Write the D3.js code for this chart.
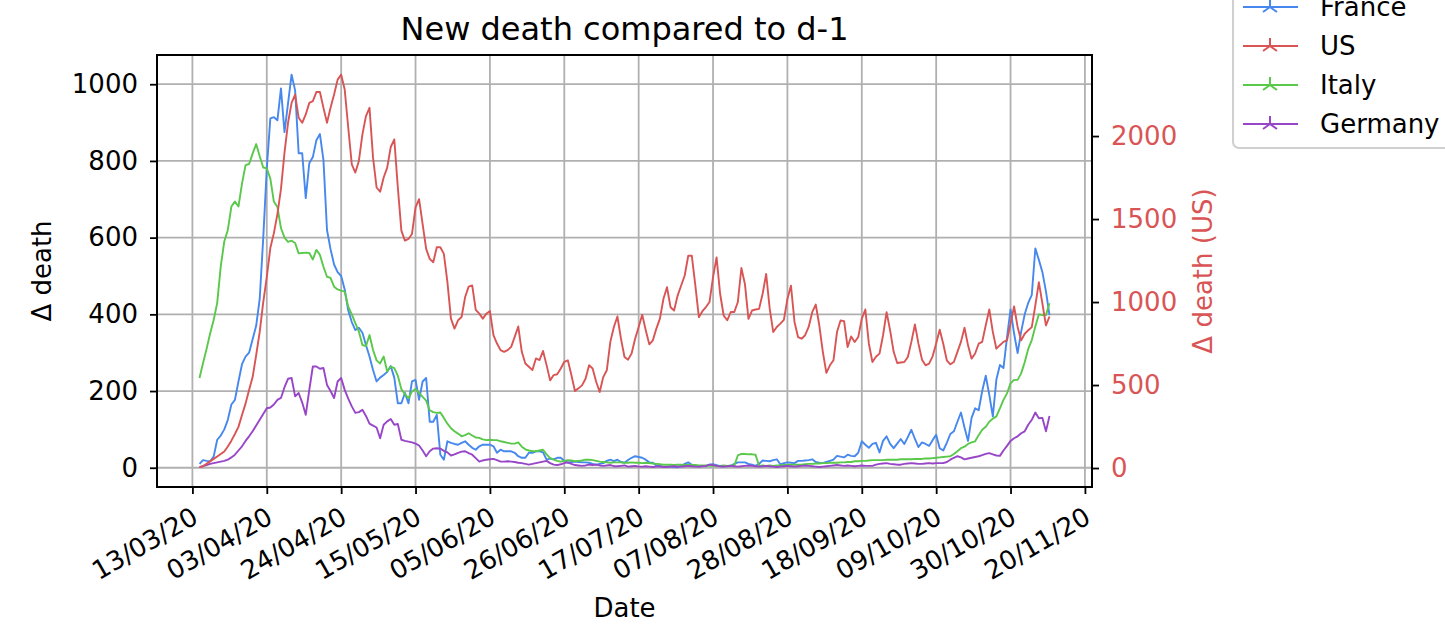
<!doctype html>
<html>
<head>
<meta charset="utf-8">
<title>New death compared to d-1</title>
<style>
  body { margin: 0; background: #fff; }
  svg { font-family: "DejaVu Sans", sans-serif; }
  .grid line { stroke: #b0b0b0; stroke-width: 1.8px; }
  .series { fill: none; stroke-width: 1.9px; stroke-linejoin: round; }
  .axis text { font-family: "DejaVu Sans", sans-serif; font-size: 26px; }
</style>
</head>
<body>
<script src="https://cdn.jsdelivr.net/npm/d3@7"></script>
<script>
// one value per day, starting on firstDay
var firstDay = "2020-03-15";
var countries = ["France", "US", "Italy", "Germany"];
var colors = ["#4688ee", "#d95555", "#5ac84a", "#9846c8"];

var france = [10, 20, 18, 17, 29, 73, 84, 100, 125, 165,
  177, 225, 270, 290, 300, 335, 370, 440, 600, 780,
  911, 914, 906, 989, 875, 950, 1025, 984, 820, 820,
  703, 794, 810, 854, 870, 802, 620, 570, 530, 510,
  500, 465, 410, 380, 359, 365, 352, 320, 290, 255,
  225, 235, 242, 250, 265, 235, 168, 168, 195, 168,
  225, 229, 177, 225, 234, 120, 120, 138, 34, 21,
  69, 65, 62, 60, 65, 69, 60, 52, 47, 56,
  60, 60, 60, 56, 39, 47, 43, 43, 43, 39,
  30, 26, 26, 39, 39, 43, 43, 40, 21, 24,
  22, 26, 26, 18, 13, 15, 16, 15, 14, 14,
  13, 10, 8, 10, 12, 18, 21, 17, 21, 15,
  13, 20, 26, 30, 28, 26, 21, 14, 13, 6,
  4, 3, 3, 4, 2, 1, 4, 10, 14, 8,
  5, 3, 5, 4, 8, 9, 7, 4, 4, 5,
  5, 10, 14, 14, 14, 10, 8, 5, 10, 19,
  18, 17, 20, 22, 9, 12, 14, 13, 12, 18,
  18, 19, 20, 22, 15, 13, 12, 15, 18, 21,
  31, 29, 27, 34, 31, 30, 39, 69, 60, 52,
  62, 65, 40, 70, 82, 62, 51, 63, 75, 62,
  80, 99, 75, 54, 66, 62, 57, 72, 86, 51,
  45, 65, 88, 95, 120, 144, 105, 70, 130, 155,
  150, 200, 240, 190, 134, 230, 268, 260, 340, 413,
  350, 299, 355, 400, 430, 451, 572, 542, 510, 460, 398];

var us = [4, 12, 25, 40, 55, 70, 85, 100, 130, 165,
  205, 248, 320, 388, 470, 548, 680, 820, 1000, 1150,
  1325, 1415, 1530, 1680, 1900, 2080, 2200, 2250, 2110, 2080,
  2130, 2200, 2210, 2265, 2265, 2170, 2080, 2170, 2250, 2340,
  2370, 2280, 2050, 1830, 1780, 1850, 2010, 2120, 2170, 1870,
  1690, 1665, 1750, 1810, 1934, 1980, 1690, 1430, 1370, 1380,
  1410, 1570, 1620, 1470, 1320, 1260, 1240, 1330, 1330, 1290,
  1120, 900, 840, 890, 910, 1030, 1093, 1100, 953, 930,
  900, 930, 946, 800, 750, 710, 700, 710, 730, 790,
  853, 700, 630, 610, 590, 660, 650, 705, 620, 528,
  560, 565, 600, 640, 649, 560, 464, 480, 498, 538,
  619, 600, 520, 458, 548, 589, 760, 850, 913, 780,
  669, 653, 690, 779, 850, 923, 830, 745, 769, 840,
  900, 1020, 1089, 969, 949, 1039, 1100, 1160, 1279, 1279,
  1100, 909, 945, 970, 1000, 1150, 1269, 1050, 919, 890,
  940, 940, 1000, 1205, 1109, 899, 949, 955, 959, 1050,
  1169, 960, 819, 850, 870, 893, 1019, 1099, 880, 789,
  779, 800, 850, 939, 985, 860, 700, 573, 619, 649,
  819, 889, 885, 729, 793, 759, 789, 900, 955, 749,
  639, 670, 689, 800, 939, 829, 700, 633, 636, 639,
  669, 760, 865, 749, 653, 619, 629, 673, 750, 833,
  749, 649, 625, 639, 700, 760, 845, 739, 659, 690,
  749, 760, 860, 955, 820, 719, 740, 760, 769, 870,
  973, 850, 769, 809, 830, 849, 980, 1119, 990, 859, 913];

var italy = [234, 273, 310, 350, 385, 430, 525, 590, 620, 681,
  694, 681, 741, 789, 792, 819, 844, 812, 783, 781,
  754, 694, 680, 625, 600, 589, 592, 586, 559, 560,
  561, 560, 543, 568, 555, 524, 498, 495, 472, 465,
  462, 459, 420, 400, 377, 355, 320, 317, 346, 307,
  280, 272, 290, 251, 264, 260, 240, 205, 192, 181,
  199, 205, 195, 185, 175, 150, 145, 143, 144, 130,
  115, 103, 95, 89, 82, 85, 90, 84, 79, 78,
  74, 72, 73, 72, 72, 69, 67, 65, 63, 63,
  66, 55, 48, 45, 43, 43, 45, 47, 35, 25,
  21, 18, 16, 18, 20, 19, 17, 18, 19, 21,
  21, 20, 18, 16, 15, 14, 13, 14, 14, 14,
  13, 13, 14, 13, 13, 12, 13, 12, 11, 10,
  9, 8, 8, 8, 7, 8, 8, 7, 8, 7,
  7, 6, 6, 6, 5, 6, 5, 5, 6, 5,
  6, 6, 32, 36, 36, 35, 35, 34, 5, 6,
  5, 6, 5, 6, 6, 7, 7, 8, 8, 8,
  8, 9, 10, 10, 11, 11, 12, 12, 13, 13,
  13, 14, 14, 15, 15, 17, 17, 18, 18, 19,
  20, 20, 20, 20, 21, 21, 21, 21, 22, 22,
  22, 22, 23, 23, 23, 24, 24, 25, 26, 27,
  28, 29, 30, 36, 43, 51, 55, 62, 66, 69,
  85, 99, 107, 120, 128, 134, 155, 177, 194, 220,
  229, 229, 246, 275, 310, 333, 368, 400, 398, 398, 429];

var germany = [2, 4, 7, 10, 12, 14, 16, 18, 21, 27,
  34, 45, 56, 70, 82, 95, 110, 125, 140, 155,
  157, 165, 177, 182, 210, 232, 234, 186, 195, 170,
  138, 203, 264, 264, 258, 260, 216, 200, 182, 225,
  234, 203, 180, 160, 143, 145, 151, 135, 115, 110,
  105, 77, 112, 121, 127, 112, 114, 73, 70, 68,
  66, 63, 58, 45, 30, 43, 50, 51, 50, 44,
  40, 32, 35, 39, 42, 43, 38, 34, 25, 16,
  19, 21, 22, 23, 20, 16, 16, 17, 16, 15,
  13, 12, 10, 8, 10, 12, 14, 16, 18, 12,
  8, 7, 9, 12, 14, 10, 7, 6, 5, 6,
  8, 7, 8, 6, 5, 6, 7, 4, 4, 5,
  6, 3, 4, 5, 3, 3, 4, 3, 2, 3,
  4, 2, 2, 3, 4, 3, 3, 4, 5, 4,
  3, 3, 4, 5, 8, 7, 5, 4, 3, 4,
  5, 4, 3, 4, 5, 6, 5, 4, 3, 4,
  5, 4, 3, 2, 3, 4, 5, 4, 3, 4,
  5, 6, 5, 4, 3, 2, 3, 4, 5, 6,
  7, 6, 5, 6, 5, 4, 5, 6, 5, 5,
  5, 8, 10, 11, 12, 10, 9, 8, 8, 10,
  11, 12, 11, 10, 10, 11, 12, 11, 12, 12,
  12, 15, 21, 26, 30, 27, 22, 24, 26, 28,
  30, 33, 36, 38, 35, 32, 31, 45, 57, 70,
  77, 82, 90, 95, 112, 125, 144, 129, 130, 95, 135];

var dateTicks = ["13/03/20", "03/04/20", "24/04/20", "15/05/20", "05/06/20", "26/06/20",
  "17/07/20", "07/08/20", "28/08/20", "18/09/20", "09/10/20", "30/10/20", "20/11/20"];
var leftTicks = [0, 200, 400, 600, 800, 1000];
var rightTicks = [0, 500, 1000, 1500, 2000];

var W = 1445, H = 642;
var margin = { top: 55, right: 353, bottom: 155, left: 157 },
    width = W - margin.left - margin.right,
    height = H - margin.top - margin.bottom;

var parseTick = d3.utcParse("%d/%m/%y");
var day0 = d3.utcParse("%Y-%m-%d")(firstDay);
var dates = france.map(function(v, i) { return d3.utcDay.offset(day0, i); });

function padded(lo, hi) {
  var p = (hi - lo) * 0.05;
  return [lo - p, hi + p];
}

var x = d3.scaleUtc().domain(padded(+dates[0], +dates[dates.length - 1])).range([0, width]);
var leftVals = france.concat(italy, germany);
var y = d3.scaleLinear().domain(padded(d3.min(leftVals), d3.max(leftVals))).range([height, 0]);
var y2 = d3.scaleLinear().domain(padded(d3.min(us), d3.max(us))).range([height, 0]);

var svg = d3.select("body").append("svg")
  .attr("width", W)
  .attr("height", H);

var g = svg.append("g")
  .attr("transform", "translate(" + margin.left + "," + margin.top + ")");

// grid
var grid = g.append("g").attr("class", "grid");
grid.selectAll(".gx").data(dateTicks).enter().append("line")
  .attr("x1", function(d) { return x(parseTick(d)); })
  .attr("x2", function(d) { return x(parseTick(d)); })
  .attr("y1", 0).attr("y2", height);
grid.selectAll(".gy").data(leftTicks).enter().append("line")
  .attr("x1", 0).attr("x2", width)
  .attr("y1", function(d) { return y(d); })
  .attr("y2", function(d) { return y(d); });

// series
var series = [
  { name: "France", values: france, scale: y, color: colors[0] },
  { name: "Italy", values: italy, scale: y, color: colors[2] },
  { name: "Germany", values: germany, scale: y, color: colors[3] },
  { name: "US", values: us, scale: y2, color: colors[1] }
];

series.forEach(function(s) {
  var line = d3.line()
    .x(function(d, i) { return x(dates[i]); })
    .y(function(d) { return s.scale(d); });
  g.append("path")
    .datum(s.values)
    .attr("class", "series")
    .attr("stroke", s.color)
    .attr("d", line);
});

// axes
var xAxis = g.append("g")
  .attr("class", "axis")
  .attr("transform", "translate(0," + height + ")")
  .call(d3.axisBottom(x)
    .tickValues(dateTicks.map(parseTick))
    .tickFormat(d3.utcFormat("%d/%m/%y"))
    .tickSize(7)
    .tickSizeOuter(0));
xAxis.selectAll("text")
  .attr("y", 0).attr("x", 0).attr("dy", null)
  .attr("text-anchor", "end")
  .attr("fill", "#000")
  .attr("transform", "translate(7,35) rotate(-30)");

var yAxis = g.append("g")
  .attr("class", "axis")
  .call(d3.axisLeft(y).tickValues(leftTicks).tickFormat(d3.format("d"))
    .tickSize(7).tickPadding(12).tickSizeOuter(0));
yAxis.selectAll("text").attr("fill", "#000");

var yAxis2 = g.append("g")
  .attr("class", "axis")
  .attr("transform", "translate(" + width + ",0)")
  .call(d3.axisRight(y2).tickValues(rightTicks).tickFormat(d3.format("d"))
    .tickSize(7).tickPadding(12).tickSizeOuter(0));
yAxis2.selectAll("text").attr("fill", colors[1]);

g.selectAll(".axis .domain").remove();
g.selectAll(".axis line").attr("stroke", "#000").attr("stroke-width", 1.8);

// frame
g.append("rect")
  .attr("width", width).attr("height", height)
  .attr("fill", "none").attr("stroke", "#000").attr("stroke-width", 2);

// labels
svg.append("text")
  .attr("x", margin.left + width / 2).attr("y", 40)
  .attr("text-anchor", "middle")
  .attr("font-size", 32)
  .text("New death compared to d-1");

svg.append("text")
  .attr("x", margin.left + width / 2).attr("y", 617)
  .attr("text-anchor", "middle")
  .attr("font-size", 26)
  .text("Date");

svg.append("text")
  .attr("transform", "translate(51," + (margin.top + height / 2) + ") rotate(-90)")
  .attr("text-anchor", "middle")
  .attr("font-size", 26)
  .text("Δ death");

svg.append("text")
  .attr("transform", "translate(1212," + (margin.top + height / 2) + ") rotate(-90)")
  .attr("text-anchor", "middle")
  .attr("font-size", 26)
  .attr("fill", colors[1])
  .text("Δ death (US)");

// legend
var legend = svg.append("g").attr("transform", "translate(1233,0)");
legend.append("rect")
  .attr("x", 0).attr("y", -30).attr("width", 240).attr("height", 178)
  .attr("rx", 6)
  .attr("fill", "#fff").attr("fill-opacity", 0.8)
  .attr("stroke", "#d0d0d0").attr("stroke-width", 2);

var item = legend.selectAll(".item").data(countries).enter().append("g")
  .attr("transform", function(d, i) { return "translate(0," + (7 + i * 39) + ")"; });
item.append("line")
  .attr("x1", 10).attr("x2", 65)
  .attr("stroke", function(d, i) { return colors[i]; })
  .attr("stroke-width", 1.9);
item.append("path")
  .attr("d", "M37,0V-8M37,0L30,5M37,0L44,5")
  .attr("fill", "none")
  .attr("stroke", function(d, i) { return colors[i]; })
  .attr("stroke-width", 2);
item.append("text")
  .attr("x", 87).attr("dy", "0.35em")
  .attr("font-size", 26)
  .text(function(d) { return d; });
</script>
</body>
</html>
